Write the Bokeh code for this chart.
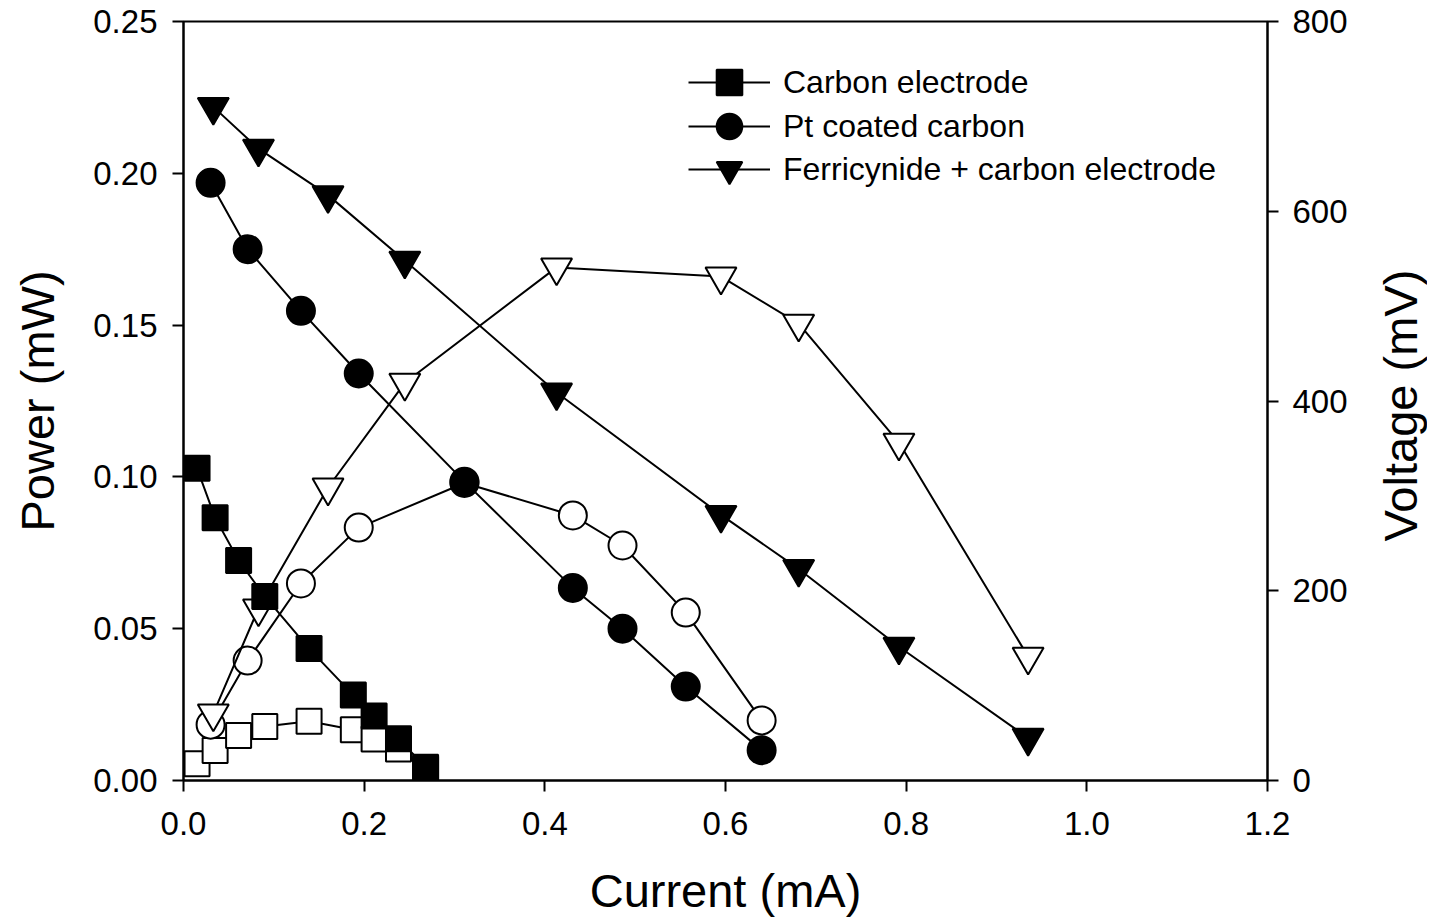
import math
from bokeh.plotting import figure
from bokeh.models import Range1d, LinearAxis, FixedTicker, NumeralTickFormatter, Legend, LegendItem, Label
from bokeh.embed import file_html
from bokeh.resources import INLINE

# ---- data ----
carbon_current = [0.015, 0.035, 0.061, 0.090, 0.139, 0.188, 0.211, 0.238, 0.268]
carbon_voltage = [329, 277, 232, 194, 139, 90, 68, 44, 14]
carbon_power = [0.0055, 0.0099, 0.0148, 0.0178, 0.0195, 0.0167, 0.0137, 0.0104, 0.0038]

pt_current = [0.030, 0.071, 0.130, 0.194, 0.311, 0.431, 0.486, 0.556, 0.640]
pt_voltage = [630, 560, 495, 429, 315, 203, 160, 99, 32]
pt_power = [0.0184, 0.0395, 0.0649, 0.0833, 0.0980, 0.0873, 0.0774, 0.0553, 0.0198]

ferri_current = [0.033, 0.083, 0.160, 0.245, 0.413, 0.595, 0.681, 0.792, 0.935]
ferri_voltage = [710, 666, 617, 548, 409, 280, 223, 141, 45]
ferri_power = [0.0221, 0.0567, 0.0965, 0.1310, 0.1690, 0.1660, 0.1505, 0.1113, 0.0408]

x_ticks = [0.0, 0.2, 0.4, 0.6, 0.8, 1.0, 1.2]
power_ticks = [0.00, 0.05, 0.10, 0.15, 0.20, 0.25]
voltage_ticks = [0, 200, 400, 600, 800]

series_names = ["Carbon electrode", "Pt coated carbon", "Ferricynide + carbon electrode"]
right_axis_title = "Voltage (mV)"

FONT = "Liberation Sans"

p = figure(
    output_backend="svg", toolbar_location=None,
    frame_width=1084, frame_height=759,
    min_border_left=183, min_border_top=21, min_border_right=160, min_border_bottom=128,
    x_range=Range1d(0, 1.2), y_range=Range1d(0, 0.25),
    background_fill_color="white", border_fill_color="white",
)
p.extra_y_ranges = {"v": Range1d(0, 800)}
p.grid.visible = False
p.outline_line_color = "black"
p.outline_line_width = 2
p.outline_line_alpha = 1

right = LinearAxis(y_range_name="v")
p.add_layout(right, "right")

p.xaxis.ticker = FixedTicker(ticks=x_ticks)
p.xaxis.formatter = NumeralTickFormatter(format="0.0")
p.yaxis[0].ticker = FixedTicker(ticks=power_ticks)
p.yaxis[0].formatter = NumeralTickFormatter(format="0.00")
right.ticker = FixedTicker(ticks=voltage_ticks)

p.xaxis.axis_label = "Current (mA)"
p.yaxis[0].axis_label = "Power (mW)"

for ax in [p.xaxis[0], p.yaxis[0], right]:
    ax.axis_line_color = "black"
    ax.axis_line_width = 2
    ax.major_tick_line_color = "black"
    ax.major_tick_line_width = 2
    ax.major_tick_out = 11
    ax.major_tick_in = 0
    ax.minor_tick_line_color = None
    ax.major_label_text_font = FONT
    ax.major_label_text_font_size = "33px"
    ax.major_label_text_color = "black"
    ax.axis_label_text_font = FONT
    ax.axis_label_text_font_size = "47px"
    ax.axis_label_text_font_style = "normal"
    ax.axis_label_text_color = "black"

p.xaxis.major_label_standoff = 20
p.xaxis.axis_label_standoff = 26
p.yaxis[0].major_label_standoff = 15
p.yaxis[0].axis_label_standoff = 26
right.major_label_standoff = 14

# right-hand title placed in the right side panel, reading bottom-to-top
p.add_layout(Label(x=1.3473, y=0.1235, text=right_axis_title, angle=math.pi / 2,
                   text_align="center", text_baseline="middle",
                   text_font=FONT, text_font_size="47px", text_color="black"), "right")

LW = 2
# open (power) series first
p.line(carbon_current, carbon_power, line_color="black", line_width=LW)
p.scatter(carbon_current, carbon_power, marker="square", size=25, fill_color="white",
          line_color="black", line_width=LW)
p.line(pt_current, pt_power, line_color="black", line_width=LW)
p.scatter(pt_current, pt_power, marker="circle", size=28, fill_color="white",
          line_color="black", line_width=LW)
p.line(ferri_current, ferri_power, line_color="black", line_width=LW)
p.scatter(ferri_current, ferri_power, marker="inverted_triangle", size=31, fill_color="white",
          line_color="black", line_width=LW)

# filled (voltage) series
l1 = p.line(carbon_current, carbon_voltage, y_range_name="v", line_color="black", line_width=LW)
s1 = p.scatter(carbon_current, carbon_voltage, y_range_name="v", marker="square", size=25,
               fill_color="black", line_color="black", line_width=LW)
l2 = p.line(pt_current, pt_voltage, y_range_name="v", line_color="black", line_width=LW)
s2 = p.scatter(pt_current, pt_voltage, y_range_name="v", marker="circle", size=28,
               fill_color="black", line_color="black", line_width=LW)
l3 = p.line(ferri_current, ferri_voltage, y_range_name="v", line_color="black", line_width=LW)
s3 = p.scatter(ferri_current, ferri_voltage, y_range_name="v", marker="inverted_triangle", size=31,
               fill_color="black", line_color="black", line_width=LW)

# one single-row legend per series so that rows can sit closer than the key height
row_centers = [51, 95, 138]  # px below the frame top
for name, rends, cy in zip(series_names, [[l1, s1], [l2, s2], [l3, s3]], row_centers):
    lg = Legend(
        items=[LegendItem(label=name, renderers=rends)],
        location=(505, 759 - cy - 42),
        glyph_width=82, glyph_height=64, label_height=40, spacing=0,
        label_standoff=13, padding=10, margin=0,
        border_line_color=None, background_fill_alpha=0,
        label_text_font=FONT, label_text_font_size="32px", label_text_color="black",
    )
    p.add_layout(lg)

open("out.html", "w").write(file_html(p, INLINE))
